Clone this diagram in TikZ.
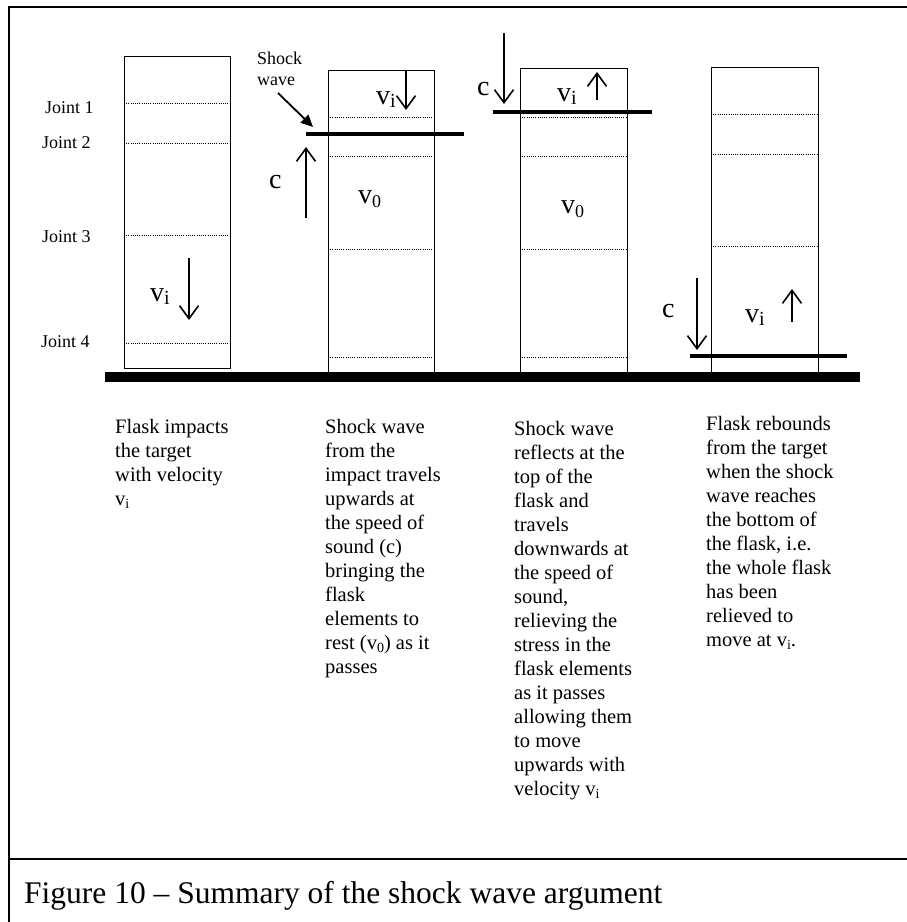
\documentclass[tikz,border=0pt]{standalone}
\usepackage{fontspec}
\setmainfont{Liberation Serif}
\usepackage{graphicx}
\usetikzlibrary{arrows.meta}
\newcommand\lowsub[3]{\raisebox{-#3}{\fontsize{#2}{#2}\selectfont #1}}
\tikzset{
  frame/.style={line width=2.4pt},
  flask/.style={draw, line width=1.2pt, rectangle, inner sep=0pt, anchor=north west},
  joint/.style={line width=0.9pt, dash pattern=on 0.9pt off 1.3pt},
  shockbar/.style={line width=4.5pt},
  ground/.style={line width=10pt},
  velarrow/.style={line width=1.6pt, -{Straight Barb[length=13pt,width=19pt,line width=1.6pt]}},
  ptr/.style={line width=1.8pt, -{Triangle[length=12pt,width=11pt]}},
  small/.style={font=\fontsize{18}{21}\selectfont, inner sep=0pt, anchor=base west, align=left},
  big/.style={font=\fontsize{28}{28}\selectfont, inner sep=0pt, anchor=base west},
  desc/.style={font=\fontsize{20.5}{24}\selectfont, inner sep=0pt, anchor=base west},
  figcap/.style={font=\fontsize{31.5}{36}\selectfont, inner sep=0pt, anchor=base west},
}
\begin{document}
\begin{tikzpicture}[x=1pt,y=-1pt]
\useasboundingbox (0,0) rectangle (907,922);
% frame
\draw[frame] (9,922) -- (9,7) -- (907,7);
\draw[frame] (9,859) -- (907,859);

% flasks
\node[flask, minimum width=106pt, minimum height=312pt] (f1) at (124,56) {};
\node[flask, minimum width=106pt, minimum height=302pt] (f2) at (328,70) {};
\node[flask, minimum width=107pt, minimum height=304pt] (f3) at (520,68) {};
\node[flask, minimum width=107pt, minimum height=305pt] (f4) at (711,67) {};

% joints
\foreach \y in {103,143,235,343} \draw[joint] (124,\y) -- (230,\y);
\foreach \y in {117,156,249,357} \draw[joint] (328,\y) -- (434,\y);
\foreach \y in {117,156,249,357} \draw[joint] (520,\y) -- (627,\y);
\foreach \y in {114,154,246,354} \draw[joint] (711,\y) -- (818,\y);

% joint labels
\node[small] (j1) at (45,113) {Joint 1};
\node[small] (j2) at (42,148) {Joint 2};
\node[small] (j3) at (42,242) {Joint 3};
\node[small] (j4) at (41,347) {Joint 4};

% ground
\draw[ground] (105,377) -- (860,377);

% shock bars
\draw[shockbar] (306,134) -- (464,134);
\draw[shockbar] (493,112) -- (652,112);
\draw[shockbar] (690,356) -- (847,356);

% shock wave label and pointer
\node[small] (sw) at (257,85) {Shock\\wave};
\coordinate (swa) at (278,93);
\coordinate (swb) at (313,127);
\draw[ptr] (swa) -- (swb);

% velocity / speed labels
\node[big] (v1) at (150,301) {v\lowsub{i}{20}{3pt}};
\node[big] (v2) at (376,104) {v\lowsub{i}{20}{3pt}};
\node[big] (z2) at (358,203) {v\lowsub{0}{18}{4pt}};
\node[big] (c2) at (269,188) {c};
\node[big] (c3) at (477,95) {c};
\node[big] (v3) at (557,101) {v\lowsub{i}{20}{3pt}};
\node[big] (z3) at (561,213) {v\lowsub{0}{18}{4pt}};
\node[big] (c4) at (662,317) {c};
\node[big] (v4) at (745,322) {v\lowsub{i}{20}{3pt}};

% arrows
\coordinate (a1s) at (189,258); \coordinate (a1e) at (189,320);
\coordinate (a2s) at (406,71);  \coordinate (a2e) at (406,110);
\coordinate (a3s) at (306,218); \coordinate (a3e) at (306,147);
\coordinate (a4s) at (504,33);  \coordinate (a4e) at (504,104);
\coordinate (a5s) at (597,100); \coordinate (a5e) at (597,72);
\coordinate (a6s) at (697,278); \coordinate (a6e) at (697,350);
\coordinate (a7s) at (792,322); \coordinate (a7e) at (792,289);
\draw[velarrow] (a1s) -- (a1e);
\draw[velarrow] (a2s) -- (a2e);
\draw[velarrow] (a3s) -- (a3e);
\draw[velarrow] (a4s) -- (a4e);
\draw[velarrow] (a5s) -- (a5e);
\draw[velarrow] (a6s) -- (a6e);
\draw[velarrow] (a7s) -- (a7e);

% descriptions
\node[desc] (d1) at (115,433) {\parbox[t]{160pt}{\raggedright
Flask impacts\\ the target\\ with velocity\\ v\lowsub{i}{14}{3pt}}};
\node[desc] (d2) at (325,433) {\parbox[t]{160pt}{\raggedright
Shock wave\\ from the\\ impact travels\\ upwards at\\ the speed of\\ sound (c)\\ bringing the\\ flask\\ elements to\\ rest (v\lowsub{0}{14}{3pt}) as it\\ passes}};
\node[desc] (d3) at (514,435) {\parbox[t]{160pt}{\raggedright
Shock wave\\ reflects at the\\ top of the\\ flask and\\ travels\\ downwards at\\ the speed of\\ sound,\\ relieving the\\ stress in the\\ flask elements\\ as it passes\\ allowing them\\ to move\\ upwards with\\ velocity v\lowsub{i}{14}{3pt}}};
\node[desc] (d4) at (706,430) {\parbox[t]{170pt}{\raggedright
Flask rebounds\\ from the target\\ when the shock\\ wave reaches\\ the bottom of\\ the flask, i.e.\\ the whole flask\\ has been\\ relieved to\\ move at v\lowsub{i}{14}{3pt}.}};

% caption
\node[figcap] (figc) at (24,903) {Figure 10 – Summary of the shock wave argument};
\end{tikzpicture}
\end{document}
